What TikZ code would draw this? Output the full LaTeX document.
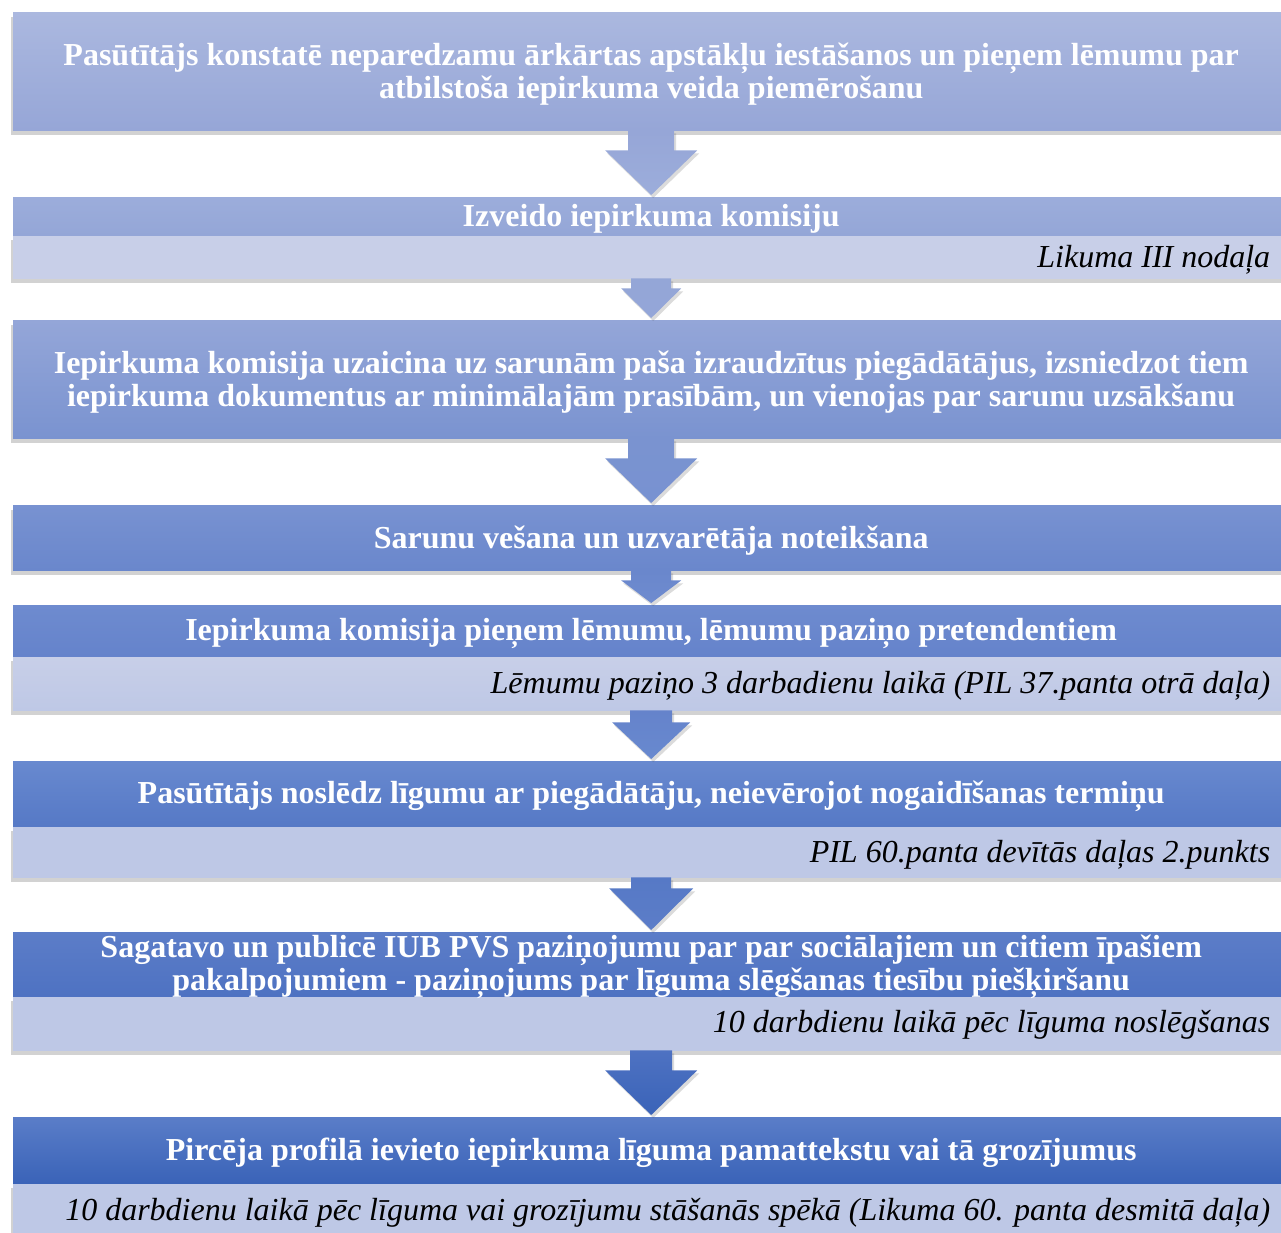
\documentclass[tikz,border=0pt]{standalone}
\usepackage{fontspec}
\setmainfont{Liberation Serif}
\usetikzlibrary{calc,shadows}

\definecolor{b1t}{HTML}{ABB8DF}\definecolor{b1b}{HTML}{96A6D7}
\definecolor{b2t}{HTML}{9CADDB}\definecolor{b2b}{HTML}{94A6D7}
\definecolor{b3t}{HTML}{94A6D8}\definecolor{b3b}{HTML}{7A93D0}
\definecolor{b4t}{HTML}{7892D1}\definecolor{b4b}{HTML}{6A87CC}
\definecolor{b5t}{HTML}{6E8BCF}\definecolor{b5b}{HTML}{6583CB}
\definecolor{b6t}{HTML}{6889CF}\definecolor{b6b}{HTML}{5679C6}
\definecolor{b7t}{HTML}{5C7DC8}\definecolor{b7b}{HTML}{4E72C2}
\definecolor{b8t}{HTML}{5A7DC8}\definecolor{b8b}{HTML}{3A63B8}
\definecolor{subA}{HTML}{C8CFE8}\definecolor{subB}{HTML}{BEC8E6}

\tikzset{
  x=1pt, y=-1pt,
  shadowed/.style={drop shadow={shadow xshift=-2pt, shadow yshift=-5pt, opacity=0.25, fill=black!70}},
  arrshadow/.style={drop shadow={shadow xshift=2pt, shadow yshift=-3pt, opacity=0.2, fill=black!70}},
  hdr/.style={anchor=north west, minimum width=1276pt, inner sep=0pt},
  hdrtxt/.style={inner sep=0pt, text=white,
    font=\bfseries\fontsize{32}{33}\selectfont, align=center},
  subrow/.style={anchor=north west, minimum width=1276pt, inner sep=0pt},
  subtxt/.style={anchor=east, inner sep=0pt, font=\itshape\fontsize{32}{34}\selectfont, text=black},
}

\newcommand{\flowarr}[7]{%
  \shade[top color=#6, bottom color=#7, arrshadow]
    ($(#1.south)+(-#3,0)$) -- ($(#1.south)+(#3,0)$) -- ($(#1.south)+(#3,#5)$) --
    ($(#1.south)+(#4,#5)$) -- ($(#2.north)+(0,-2)$) -- ($(#1.south)+(-#4,#5)$) --
    ($(#1.south)+(-#3,#5)$) -- cycle;}

\begin{document}
\begin{tikzpicture}
\clip (0,0) rectangle (1281,1232);
\fill[white] (0,0) rectangle (1281,1232);

% Box 1
\node[hdr, shadowed, minimum height=118pt, top color=b1t, bottom color=b1b] (b1) at (13,12) {};
\node[hdrtxt] (b1x) at ($(b1.center)+(0,3)$)
  {Pasūtītājs konstatē neparedzamu ārkārtas apstākļu iestāšanos un pieņem lēmumu par\\atbilstoša iepirkuma veida piemērošanu};

% Box 2
\node[subrow, shadowed, minimum height=43pt, top color=subA, bottom color=subA] (b2s) at (13,235) {};
\node[hdr, minimum height=38pt, top color=b2t, bottom color=b2b] (b2h) at (13,197) {};
\node[hdrtxt] (b2x) at ($(b2h.center)+(0,3)$) {Izveido iepirkuma komisiju};
\node[subtxt] (t2) at ($(b2s.east)+(-19,3)$) {Likuma III nodaļa};

% Box 3
\node[hdr, shadowed, minimum height=118pt, top color=b3t, bottom color=b3b] (b3) at (13,320) {};
\node[hdrtxt] (b3x) at ($(b3.center)+(0,3)$)
  {Iepirkuma komisija uzaicina uz sarunām paša izraudzītus piegādātājus, izsniedzot tiem\\iepirkuma dokumentus ar minimālajām prasībām, un vienojas par sarunu uzsākšanu};

% Box 4
\node[hdr, shadowed, minimum height=65pt, top color=b4t, bottom color=b4b] (b4) at (13,505) {};
\node[hdrtxt] (b4x) at ($(b4.center)+(0,3)$) {Sarunu vešana un uzvarētāja noteikšana};

% Box 5
\node[subrow, shadowed, minimum height=54pt, top color=subA, bottom color=subB] (b5s) at (13,656) {};
\node[hdr, minimum height=51pt, top color=b5t, bottom color=b5b] (b5h) at (13,605) {};
\node[hdrtxt] (b5x) at ($(b5h.center)+(0,3)$) {Iepirkuma komisija pieņem lēmumu, lēmumu paziņo pretendentiem};
\node[subtxt] (t5) at ($(b5s.east)+(-19,3)$) {Lēmumu paziņo 3 darbadienu laikā (PIL 37.panta otrā daļa)};

% Box 6
\node[subrow, shadowed, minimum height=51pt, top color=subB, bottom color=subB] (b6s) at (13,826) {};
\node[hdr, minimum height=65pt, top color=b6t, bottom color=b6b] (b6h) at (13,761) {};
\node[hdrtxt] (b6x) at ($(b6h.center)+(0,3)$) {Pasūtītājs noslēdz līgumu ar piegādātāju, neievērojot nogaidīšanas termiņu};
\node[subtxt] (t6) at ($(b6s.east)+(-19,3)$) {PIL 60.panta devītās daļas 2.punkts};

% Box 7
\node[subrow, shadowed, minimum height=54pt, top color=subB, bottom color=subB] (b7s) at (13,996) {};
\node[hdr, minimum height=64pt, top color=b7t, bottom color=b7b] (b7h) at (13,932) {};
\node[hdrtxt] (b7x) at ($(b7h.center)+(0,3)$)
  {Sagatavo un publicē IUB PVS paziņojumu par par sociālajiem un citiem īpašiem\\pakalpojumiem - paziņojums par līguma slēgšanas tiesību piešķiršanu};
\node[subtxt] (t7) at ($(b7s.east)+(-19,2)$) {10 darbdienu laikā pēc līguma noslēgšanas};

% Box 8
\node[subrow, shadowed, minimum height=60pt, top color=subB, bottom color=subB] (b8s) at (13,1183) {};
\node[hdr, minimum height=66pt, top color=b8t, bottom color=b8b] (b8h) at (13,1117) {};
\node[hdrtxt] (b8x) at ($(b8h.center)+(0,3)$) {Pircēja profilā ievieto iepirkuma līguma pamattekstu vai tā grozījumus};
\node[subtxt] (t8) at ($(b8s.north east)+(-19,30)$) {10 darbdienu laikā pēc līguma vai grozījumu stāšanās spēkā (Likuma 60. panta desmitā daļa)};

% Arrows
\flowarr{b1}{b2h}{23}{46}{20}{b1b}{b2t}
\flowarr{b2s}{b3}{20}{30}{10}{b2b}{b3t}
\flowarr{b3}{b4}{23}{46}{20}{b3b}{b4t}
\flowarr{b4}{b5h}{20}{30}{10}{b4b}{b5t}
\flowarr{b5s}{b6h}{21}{39}{12}{b5b}{b6t}
\flowarr{b6s}{b7h}{20}{42}{11}{b6b}{b7t}
\flowarr{b7s}{b8h}{21}{46}{20}{b7b}{b8b}
\end{tikzpicture}
\end{document}
